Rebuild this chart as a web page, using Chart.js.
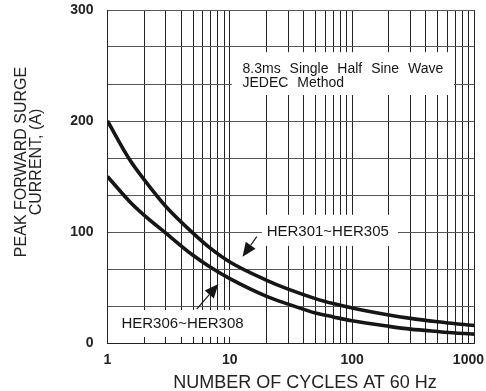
<!DOCTYPE html>
<html><head><meta charset="utf-8">
<script src="https://cdn.jsdelivr.net/npm/chart.js@4/dist/chart.umd.min.js"></script>
<style>html,body{margin:0;padding:0;background:#fff;}#wrap{width:486px;height:391px;}</style>
</head><body><div id="wrap"><canvas id="c" width="486" height="391"></canvas></div>
<script>
// ---- data ----
const cycles      = [1, 1.5, 2, 3, 5, 7, 10, 20, 30, 50, 70, 100, 200, 300, 500, 700, 1000];
const her301_305  = [200, 166, 147, 123, 99, 85, 73, 56.5, 48.5, 40, 35.5, 31.5, 25.2, 22.2, 19.1, 17.3, 15.8];
const her306_308  = [150, 128, 115, 99, 79, 68, 58, 42, 35, 27, 23.5, 20, 15, 12.5, 10.3, 9, 8];
const seriesNames = ['HER301~HER305', 'HER306~HER308'];
const xTickLabels = [1, 10, 100, 1000];
const yTickLabels = [0, 100, 200, 300];
const yGridDivisions = 9;
const noteLines   = ['8.3ms Single Half Sine Wave', 'JEDEC Method'];
const xTitle      = 'NUMBER OF CYCLES AT 60 Hz';
const yTitle      = ['PEAK FORWARD SURGE', 'CURRENT, (A)'];

const FONT = '"Liberation Sans", Arial, sans-serif';
const INK = '#161616';

function arrow(ctx, x1, y1, x2, y2) {
  const ang = Math.atan2(y2 - y1, x2 - x1), L = 14, W = 6;
  const bx = x2 - L * Math.cos(ang), by = y2 - L * Math.sin(ang);
  ctx.beginPath(); ctx.moveTo(x1, y1); ctx.lineTo(bx, by);
  ctx.lineWidth = 1.2; ctx.strokeStyle = INK; ctx.stroke();
  ctx.beginPath(); ctx.moveTo(x2, y2);
  ctx.lineTo(bx + W * Math.sin(ang), by - W * Math.cos(ang));
  ctx.lineTo(bx - W * Math.sin(ang), by + W * Math.cos(ang));
  ctx.closePath(); ctx.fillStyle = INK; ctx.fill();
}

const zeroPad = s => { s.paddingLeft = 0; s.paddingRight = 0; s.paddingTop = 0; s.paddingBottom = 0; };

const notes = {
  id: 'notes',
  beforeDraw(chart) {
    const items = chart.scales.x.getLabelItems();
    items.forEach(it => {
      if (it.label === String(xTickLabels[xTickLabels.length - 1])) {
        it.options.textAlign = 'right';
        it.options.translation[0] = chart.width - 2;
      }
    });
  },
  beforeDatasetsDraw(chart) {
    const ctx = chart.ctx, x = chart.scales.x, y = chart.scales.y;
    const X = v => x.getPixelForValue(v), Y = v => y.getPixelForValue(v);
    ctx.save();
    ctx.fillStyle = '#fff';
    const box = (x0, x1, y0, y1) => ctx.fillRect(X(x0), Y(y1), X(x1) - X(x0), Y(y0) - Y(y1));
    box(10.4, 680, 223.4, 262);
    box(18.3, 237, 87.5, 115.5);
    box(1.12, 14.8, 5.4, 29.7);
    ctx.fillStyle = INK;
    ctx.textBaseline = 'alphabetic';
    ctx.textAlign = 'left';
    ctx.font = '14px ' + FONT;
    ctx.wordSpacing = '5px';
    ctx.fillText(noteLines[0], X(12.7), Y(243.5));
    ctx.fillText(noteLines[1], X(12.7), Y(230.5));
    ctx.wordSpacing = '0px';
    ctx.font = '15px ' + FONT;
    ctx.textBaseline = 'middle';
    ctx.fillText(seriesNames[0], X(20), Y(100.3));
    ctx.fillText(seriesNames[1], X(1.3), Y(17.5));
    arrow(ctx, X(16.6), Y(95.8), X(12.7), Y(77.8));
    arrow(ctx, X(5.36), Y(30.6), X(8.07), Y(53.2));
    ctx.restore();
  },
  afterDraw(chart) {
    const ctx = chart.ctx;
    ctx.save();
    ctx.fillStyle = '#222';
    ctx.textAlign = 'center';
    ctx.textBaseline = 'middle';
    ctx.font = '18px ' + FONT;
    ctx.fillText(xTitle, 305, 383);
    ctx.font = '16px ' + FONT;
    ctx.translate(22, 162); ctx.rotate(-Math.PI / 2);
    ctx.fillText(yTitle[0], 0, 0);
    ctx.fillText(yTitle[1], 0, 15);
    ctx.restore();
  }
};

new Chart(document.getElementById('c'), {
  type: 'line',
  data: {
    datasets: [
      { label: seriesNames[0], data: cycles.map((c, i) => ({ x: c, y: her301_305[i] })) },
      { label: seriesNames[1], data: cycles.map((c, i) => ({ x: c, y: her306_308[i] })) }
    ]
  },
  options: {
    responsive: false, animation: false, devicePixelRatio: 1,
    layout: { autoPadding: false, padding: { top: 10, right: 11.5, bottom: 0, left: 0 } },
    elements: {
      line: { borderColor: INK, borderWidth: 3.6, cubicInterpolationMode: 'monotone', fill: false },
      point: { radius: 0 }
    },
    plugins: { legend: { display: false }, tooltip: { enabled: false } },
    scales: {
      x: {
        type: 'logarithmic', min: 1, max: 1000,
        afterBuildTicks: s => {
          const t = [];
          for (let e = 0; e < 3; e++) for (let m = 1; m < 10; m++) t.push({ value: m * Math.pow(10, e) });
          t.push({ value: 1000 });
          s.ticks = t;
        },
        afterFit: s => { s.height = 48; zeroPad(s); },
        ticks: {
          autoSkip: false, maxRotation: 0, padding: 9, color: '#222',
          font: { family: FONT, size: 14, weight: 'bold' },
          callback: v => xTickLabels.includes(v) ? String(v) : ''
        },
        grid: { color: '#222', lineWidth: 1, drawTicks: false },
        border: { display: true, color: '#222', width: 1 }
      },
      y: {
        type: 'linear', min: 0, max: 300,
        afterBuildTicks: s => {
          s.ticks = Array.from({ length: yGridDivisions + 1 }, (_, k) => ({ value: k * 300 / yGridDivisions }));
        },
        afterFit: s => { s.width = 107.5; zeroPad(s); },
        ticks: {
          autoSkip: false, padding: 14, color: '#222',
          font: { family: FONT, size: 14, weight: 'bold' },
          callback: v => { const r = yTickLabels.find(t => Math.abs(t - v) < 1e-6); return r === undefined ? '' : String(r); }
        },
        grid: { color: '#555', lineWidth: 1, drawTicks: false },
        border: { display: true, color: '#222', width: 1 }
      }
    }
  },
  plugins: [notes]
});
</script>
</body></html>
